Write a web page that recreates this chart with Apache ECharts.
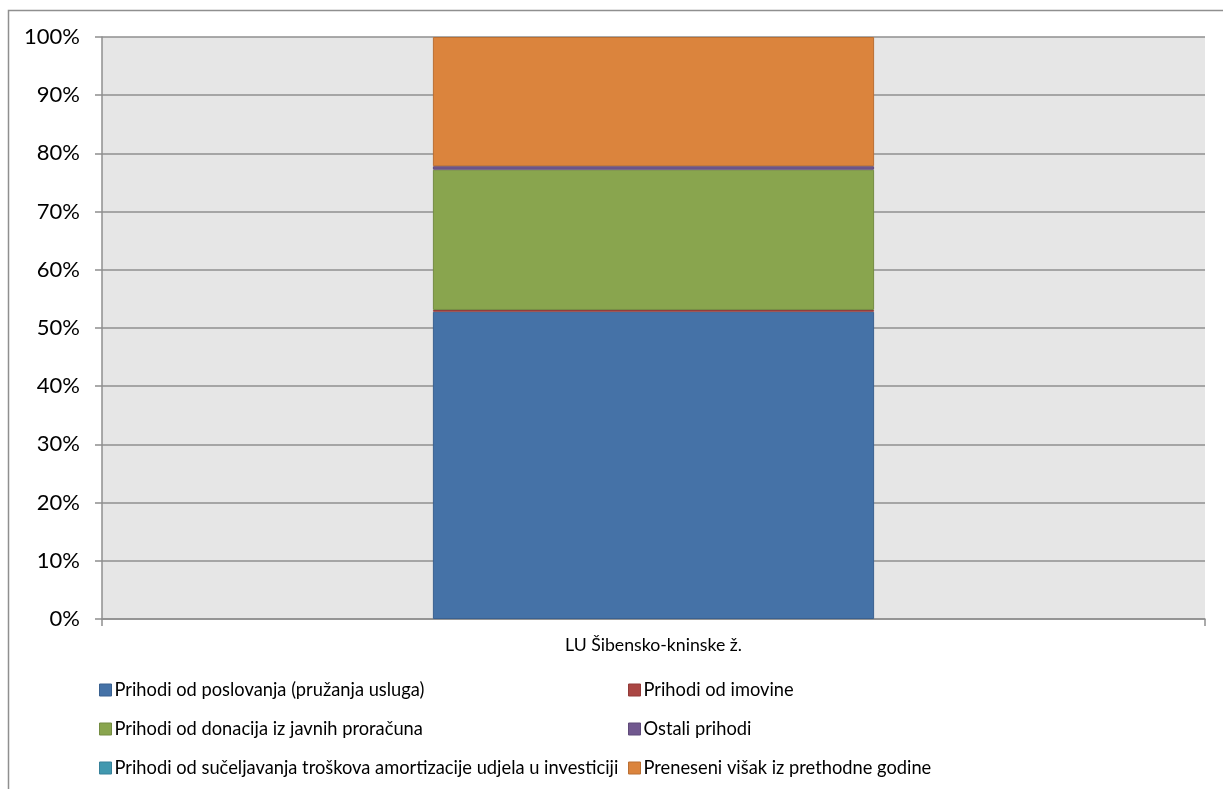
<!DOCTYPE html>
<html>
<head>
<meta charset="utf-8">
<script src="https://cdn.jsdelivr.net/npm/echarts@6/dist/echarts.min.js"></script>
<style>
html,body{margin:0;padding:0;background:#fff;}
#c{width:1223px;height:789px;}
</style>
</head>
<body>
<div id="c"></div>
<script>
const categories = ['LU Šibensko-kninske ž.'];
const seriesNames = [
  'Prihodi od poslovanja (pružanja usluga)',
  'Prihodi od imovine',
  'Prihodi od donacija iz javnih proračuna',
  'Ostali prihodi',
  'Prihodi od sučeljavanja troškova amortizacije udjela u investiciji',
  'Preneseni višak iz prethodne godine'
];
const poslovanja = [52.8];
const imovina = [0.3];
const donacije = [24.1];
const ostali = [0.6];
const amortizacija = [0.0];
const visak = [22.2];
const seriesValues = [poslovanja, imovina, donacije, ostali, amortizacija, visak];
const colors = ['#4572A7', '#AA4643', '#89A54E', '#71588F', '#4198AF', '#DB843D'];
const borders = ['#3A6190', '#923B39', '#748C42', '#5F4A79', '#37819A', '#BA6F33'];
const yTicks = [0, 10, 20, 30, 40, 50, 60, 70, 80, 90, 100];

const FONT = 'Lato, "Open Sans", sans-serif';
const chart = echarts.init(document.getElementById('c'));

const series = seriesNames.map((n, i) => {
  const allZero = seriesValues[i].every(v => v === 0);
  return {
    name: n,
    type: 'bar',
    stack: 'total',
    barWidth: '40%',
    data: seriesValues[i],
    itemStyle: { color: colors[i], borderColor: borders[i], borderWidth: allZero ? 0 : 1 },
    emphasis: { disabled: true }
  };
});

const legendItem = i => ({ name: seriesNames[i], itemStyle: { color: colors[i], borderColor: borders[i], borderWidth: 1 } });

const legendCommon = {
  orient: 'vertical',
  icon: 'rect',
  itemWidth: 12,
  itemHeight: 12,
  itemGap: 21,
  top: 681,
  textStyle: { fontFamily: FONT, fontSize: 18.3, lineHeight: 18, color: '#000', padding: [0, 0, 0, -2] },
  selectedMode: false,
  padding: 0
};

chart.setOption({
  animation: false,
  backgroundColor: '#fff',
  graphic: [{
    type: 'rect',
    shape: { x: 8.5, y: 10.5, width: 1240, height: 820 },
    style: { fill: null, stroke: '#8f8f8f', lineWidth: 1.5 },
    silent: true
  }],
  grid: {
    left: 102, right: 18, top: 37, bottom: 170,
    show: true, backgroundColor: '#E6E6E6', borderWidth: 0
  },
  legend: [
    Object.assign({}, legendCommon, { left: 99, data: [legendItem(0), legendItem(2), legendItem(4)] }),
    Object.assign({}, legendCommon, { left: 628, data: [legendItem(1), legendItem(3), legendItem(5)] })
  ],
  xAxis: {
    type: 'category',
    data: categories,
    axisLine: { lineStyle: { color: '#8f8f8f', width: 1.5 } },
    axisTick: { show: true, length: 7, lineStyle: { color: '#8f8f8f', width: 1.5 } },
    axisLabel: { fontFamily: FONT, fontSize: 17.7, color: '#000', margin: 17 }
  },
  yAxis: {
    type: 'value',
    min: 0, max: 100, interval: 10,
    axisLine: { show: true, lineStyle: { color: '#8f8f8f', width: 1.5 } },
    axisTick: { show: true, length: 7, lineStyle: { color: '#8f8f8f', width: 1.5 } },
    splitLine: { lineStyle: { color: '#8f8f8f', width: 1.5 } },
    axisLabel: {
      fontFamily: FONT, fontSize: 22, color: '#000', margin: 22,
      formatter: v => (yTicks.indexOf(v) >= 0 ? v + '%' : '')
    }
  },
  series: series
});
</script>
</body>
</html>
